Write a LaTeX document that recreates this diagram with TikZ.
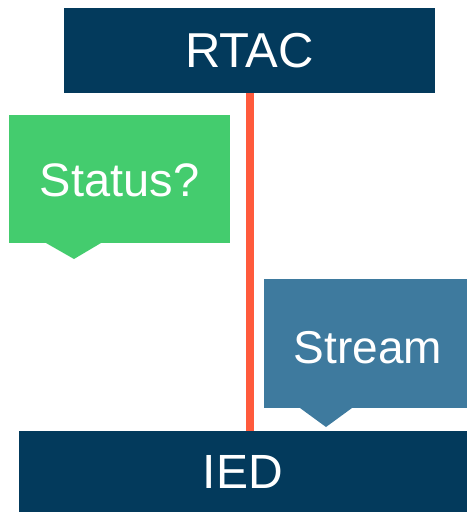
\documentclass[tikz,border=0pt]{standalone}
\usepackage{fontspec}
\setmainfont{Liberation Sans}
\definecolor{navy}{RGB}{3,58,92}
\definecolor{statusgreen}{RGB}{68,204,110}
\definecolor{streamblue}{RGB}{62,122,158}
\definecolor{linkred}{RGB}{255,90,60}
\tikzset{
  device/.style={fill=navy, text=white, inner sep=0pt, outer sep=0pt},
  bubble/.style={text=white, inner sep=0pt, outer sep=0pt},
}
\begin{document}
\begin{tikzpicture}[x=1pt, y=-1pt]
\useasboundingbox (0,0) rectangle (467,512);
% devices
\node[device, minimum width=371pt, minimum height=85pt] (rtac) at (249.5,50.5)
  {\fontsize{49}{58}\selectfont RTAC};
\node[device, minimum width=448pt, minimum height=81pt] (ied) at (243,471.5)
  {\fontsize{48}{58}\selectfont IED};
% link between the devices
\draw[linkred, line width=8pt] (rtac.south -| 250,0) -- (ied.north -| 250,0);
% request bubble
\fill[statusgreen] (9,115) rectangle (230,243);
\fill[statusgreen] (46,243) -- (74,259) -- (101,243) -- cycle;
\node[bubble] (status) at (119.5,180) {\fontsize{47}{56}\selectfont Status?};
% reply bubble
\fill[streamblue] (264,279) rectangle (467,408);
\fill[streamblue] (300,408) -- (326,427) -- (352,408) -- cycle;
\node[bubble] (stream) at (368,348) {\fontsize{46}{56}\selectfont Stream};
\end{tikzpicture}
\end{document}
